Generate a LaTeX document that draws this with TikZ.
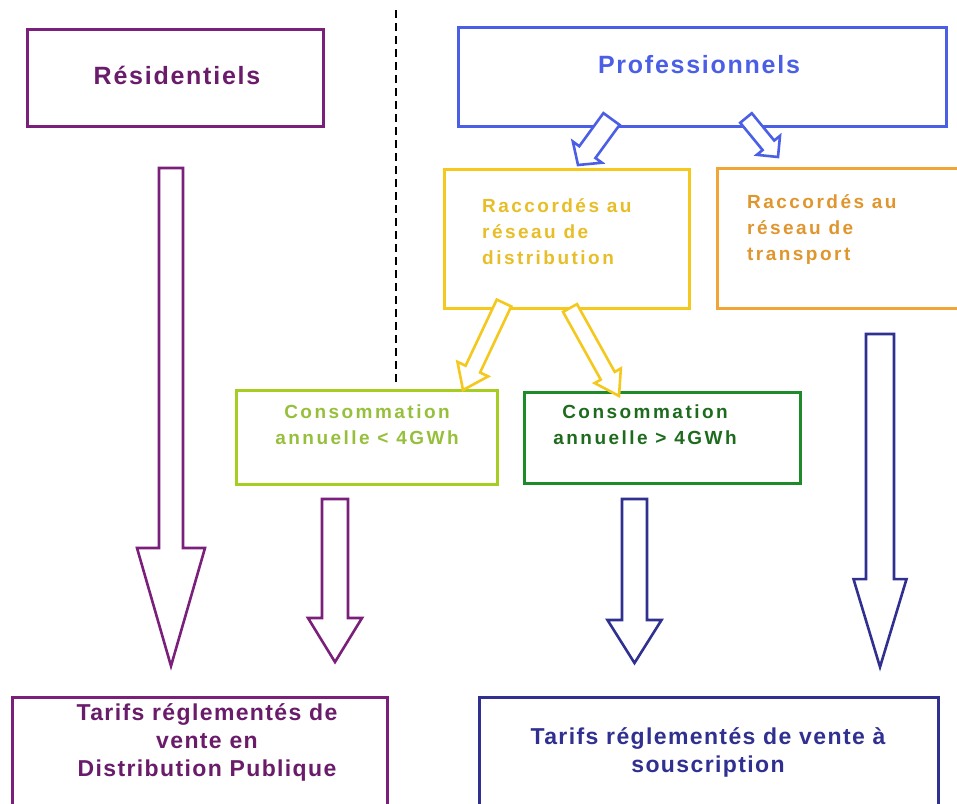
\documentclass[tikz,border=0pt]{standalone}
\usepackage{fontspec}
\setmainfont{Liberation Sans}
\newfontfamily\bigfont{Liberation Sans}[LetterSpace=7]
\newfontfamily\midfont{Liberation Sans}[LetterSpace=6]
\newfontfamily\smallfont{Liberation Sans}[LetterSpace=13]
\usetikzlibrary{calc}
\definecolor{cpurple}{HTML}{7A1F7A}
\definecolor{tpurple}{HTML}{6A1C6A}
\definecolor{cblue}{HTML}{4A5FE6}
\definecolor{cnavy}{HTML}{303090}
\definecolor{cgold}{HTML}{F5C81E}
\definecolor{tgold}{HTML}{E8BE28}
\definecolor{corange}{HTML}{F0A538}
\definecolor{torange}{HTML}{E0962E}
\definecolor{clime}{HTML}{A6CE22}
\definecolor{tlime}{HTML}{96C03C}
\definecolor{cdkgreen}{HTML}{1F8A2A}
\definecolor{tdkgreen}{HTML}{1E6B1E}
\tikzset{
  boxnode/.style={draw=#1, line width=3pt, rectangle, inner sep=0pt, outer sep=0pt},
  bigtext/.style={text=#1, font={\bigfont\bfseries\fontsize{25}{30}\selectfont}, inner sep=0pt},
  midtext/.style={text=#1, font={\midfont\bfseries\fontsize{23}{28}\selectfont}, align=center, inner sep=0pt},
  smalltext/.style={text=#1, font={\smallfont\bfseries\fontsize{19}{26}\selectfont}, inner sep=0pt},
  hollow/.style={draw=#1, line width=2.6pt, fill=white, line join=miter},
  sepline/.style={draw=black, line width=2pt, dash pattern=on 8pt off 5pt}
}
\newcommand{\hollowarrow}[6]{%
  \coordinate (hb) at ($(#2)!#6!(#3)$);
  \draw[#1] ($(#2)!#4!90:(#3)$) -- ($(hb)!#4!90:(#3)$) -- ($(hb)!#5!90:(#3)$) -- (#3)
     -- ($(hb)!#5!-90:(#3)$) -- ($(hb)!#4!-90:(#3)$) -- ($(#2)!#4!-90:(#3)$) -- cycle;
}
\begin{document}
\begin{tikzpicture}[x=1pt,y=-1pt]
\clip (0,0) rectangle (957,803);
\fill[white] (0,0) rectangle (957,803);

% separator
\coordinate (d1) at (396,10);
\coordinate (d2) at (396,386);
\draw[sepline] (d1) -- (d2);

% boxes
\node[boxnode=cpurple, minimum width=296pt, minimum height=97pt] (res) at (175,77.5) {};
\node[boxnode=cblue, minimum width=488pt, minimum height=99pt] (pro) at (702,76.5) {};
\node[boxnode=cgold, minimum width=245pt, minimum height=139pt] (dist) at (566.5,238.5) {};
\node[boxnode=corange, minimum width=258pt, minimum height=140pt] (trans) at (846,238) {};
\node[boxnode=clime, minimum width=261pt, minimum height=94pt] (low) at (366.5,437) {};
\node[boxnode=cdkgreen, minimum width=276pt, minimum height=91pt] (high) at (662,437.5) {};
\node[boxnode=cpurple, minimum width=375pt, minimum height=133pt] (dp) at (199.5,763.5) {};
\node[boxnode=cnavy, minimum width=459pt, minimum height=133pt] (sous) at (708.5,763.5) {};

% texts
\node[bigtext=tpurple] (tres) at (177,75) {Résidentiels};
\node[bigtext=cblue] (tpro) at (699,65) {Professionnels};
\node[smalltext=tgold, align=left, anchor=west] (tdist) at (482,232) {Raccordés au\\réseau de\\distribution};
\node[smalltext=torange, align=left, anchor=west] (ttrans) at (747,229) {Raccordés au\\réseau de\\transport};
\node[smalltext=tlime, align=center] (tlow) at (367,424.5) {Consommation\\annuelle < 4GWh};
\node[smalltext=tdkgreen, align=center] (thigh) at (645,424.5) {Consommation\\annuelle > 4GWh};
\node[midtext=tpurple] (tdp) at (207,742.5) {Tarifs réglementés de\\vente en\\Distribution Publique};
\node[midtext=cnavy] (tsous) at (708,752.5) {Tarifs réglementés de vente à\\souscription};

% arrow end points
\coordinate (b1s) at (611.5,119);  \coordinate (b1t) at (578,165);
\coordinate (b2s) at (746,118);    \coordinate (b2t) at (778,157);
\coordinate (y1s) at (504,303);    \coordinate (y1t) at (463,390);
\coordinate (y2s) at (570,308);    \coordinate (y2t) at (619,396);
\coordinate (p1s) at (171,168);    \coordinate (p1t) at (171,666);
\coordinate (p2s) at (335,499);    \coordinate (p2t) at (335,662);
\coordinate (n1s) at (634.5,499);  \coordinate (n1t) at (634.5,663);
\coordinate (n2s) at (880,334);    \coordinate (n2t) at (880,667);

% hollow arrows
\hollowarrow{hollow=cblue}{b1s}{b1t}{10pt}{18pt}{0.72}
\hollowarrow{hollow=cblue}{b2s}{b2t}{7.5pt}{15pt}{0.70}
\hollowarrow{hollow=cgold}{y1s}{y1t}{8pt}{17pt}{0.76}
\hollowarrow{hollow=cgold}{y2s}{y2t}{8pt}{15pt}{0.77}
\hollowarrow{hollow=cpurple}{p1s}{p1t}{12pt}{34pt}{0.763}
\hollowarrow{hollow=cpurple}{p2s}{p2t}{13pt}{27pt}{0.73}
\hollowarrow{hollow=cnavy}{n1s}{n1t}{12.5pt}{27pt}{0.738}
\hollowarrow{hollow=cnavy}{n2s}{n2t}{14pt}{26.5pt}{0.736}
\end{tikzpicture}
\end{document}
